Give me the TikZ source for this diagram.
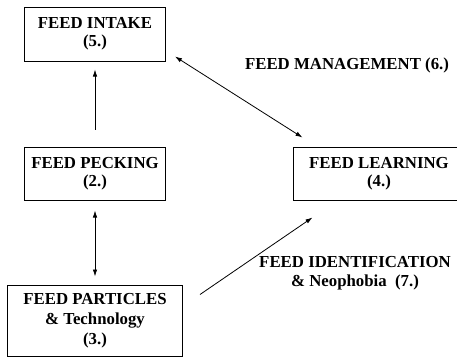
\documentclass[tikz,border=0pt]{standalone}
\usepackage{fontspec}
\setmainfont{Liberation Serif}
\usetikzlibrary{arrows.meta,calc}
\begin{document}
\begin{tikzpicture}[x=1pt,y=-1pt,
  box/.style={draw,line width=1pt,inner sep=0pt,align=center,
    font=\bfseries\fontsize{16.8}{18}\selectfont},
  lbl/.style={inner sep=0pt,align=center,font=\bfseries\fontsize{16.8}{18.5}\selectfont},
  conn/.style={line width=0.8pt},
  tip/.style={-{Latex[length=7pt,width=4.5pt]}},
  tips/.style={{Latex[length=7pt,width=4.5pt]}-{Latex[length=7pt,width=4.5pt]}}]
\clip (0,0) rectangle (457,357);
\node[box,minimum width=141pt,minimum height=54pt] (intake) at (95,34) {FEED INTAKE\\(5.)};
\node[box,minimum width=141pt,minimum height=53pt] (peck) at (95,173.5) {FEED PECKING\\(2.)};
\node[box,minimum width=172pt,minimum height=53pt] (learn) at (379,173.5) {FEED LEARNING\\(4.)};
\node[box,minimum width=175pt,minimum height=71pt,font=\bfseries\fontsize{16.8}{20}\selectfont] (part) at (95,320.5) {FEED PARTICLES\\\& Technology\\(3.)};
\node[lbl,anchor=base] (mgmt) at (347,69.5) {FEED MANAGEMENT (6.)};
\node[lbl,anchor=base] (ident) at (355,286) {FEED IDENTIFICATION\\\& Neophobia\ \ (7.)};
\draw[conn,tip,shorten >=8pt,shorten <=17pt] (peck.north) -- (intake.south);
\draw[conn,tips,shorten >=8pt,shorten <=10pt] (peck.south) -- (part.north);
\draw[conn,tips] ($(intake.south east)+(9,-5)$) -- ($(learn.north west)+(10,-9)$);
\draw[conn,tip] ($(part.north east)+(17,10)$) -- ($(learn.south west)+(20,17)$);
\end{tikzpicture}
\end{document}
